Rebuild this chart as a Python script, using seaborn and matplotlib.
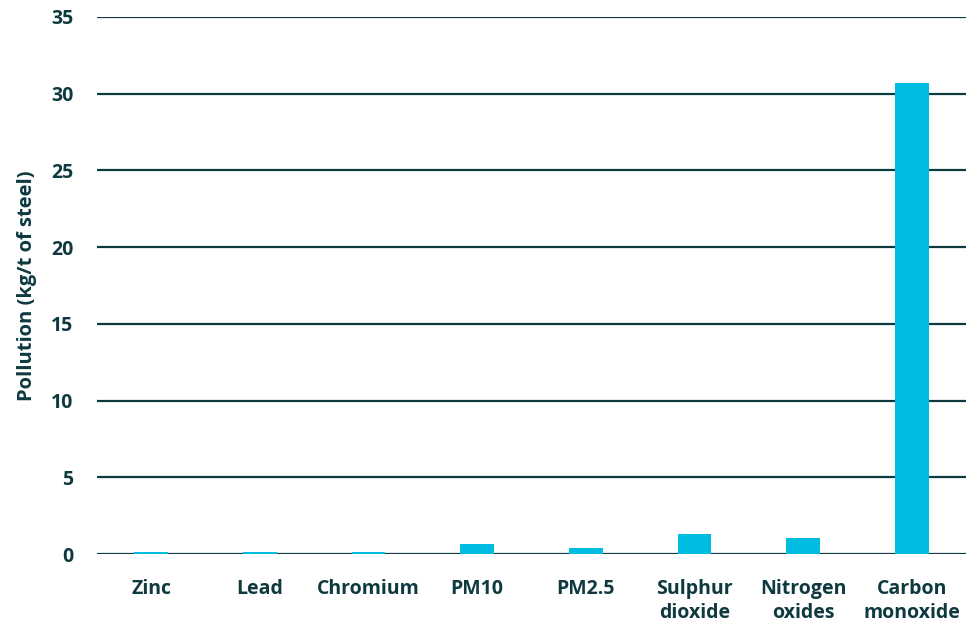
import matplotlib
matplotlib.use("Agg")
import matplotlib.pyplot as plt
import seaborn as sns
import pandas as pd

# Pollutant emissions per tonne of steel
pollutants = ["Zinc", "Lead", "Chromium", "PM10", "PM2.5",
              "Sulphur\ndioxide", "Nitrogen\noxides", "Carbon\nmonoxide"]
emissions = [0.15, 0.15, 0.15, 0.67, 0.39, 1.3, 1.04, 30.7]
y_ticks = [0, 5, 10, 15, 20, 25, 30, 35]

BAR = "#00BCE1"
INK = "#0E3A3F"

sns.set_theme(style="white")
plt.rcParams["font.family"] = ["Open Sans", "DejaVu Sans"]

df = pd.DataFrame({"pollutant": pollutants, "emission": emissions})

fig = plt.figure(figsize=(9.67, 6.30), dpi=100)
ax = fig.add_axes([97 / 967, 1 - 554 / 630, (966 - 97) / 967, (554 - 17) / 630])

ax.set_axisbelow(True)
ax.yaxis.grid(True, color=INK, linewidth=1.6, zorder=0)
ax.axhline(0, color=INK, linewidth=2.0, zorder=1)

sns.barplot(data=df, x="pollutant", y="emission", color=BAR, width=0.31,
            saturation=1, ax=ax, zorder=3, edgecolor="none", linewidth=0)

ax.set_ylim(0, 35)
ax.set_xlim(-0.5, len(pollutants) - 0.5)
ax.set_yticks(y_ticks)
ax.set_yticklabels([str(t) for t in y_ticks])
for s in ax.spines.values():
    s.set_visible(False)

ax.tick_params(axis="y", length=0, pad=17, labelsize=14, labelcolor=INK)
ax.tick_params(axis="x", length=0, pad=18, labelsize=14, labelcolor=INK)
for lab in ax.get_yticklabels():
    lab.set_fontweight("bold")
for lab in ax.get_xticklabels():
    lab.set_fontweight("bold")
    lab.set_linespacing(1.25)
    lab.set_verticalalignment("top")

ax.set_xlabel("")
ax.set_ylabel("Pollution (kg/t of steel)", fontsize=14.5, fontweight="bold",
              color=INK, labelpad=10)

fig.savefig("out.png", dpi=100)
